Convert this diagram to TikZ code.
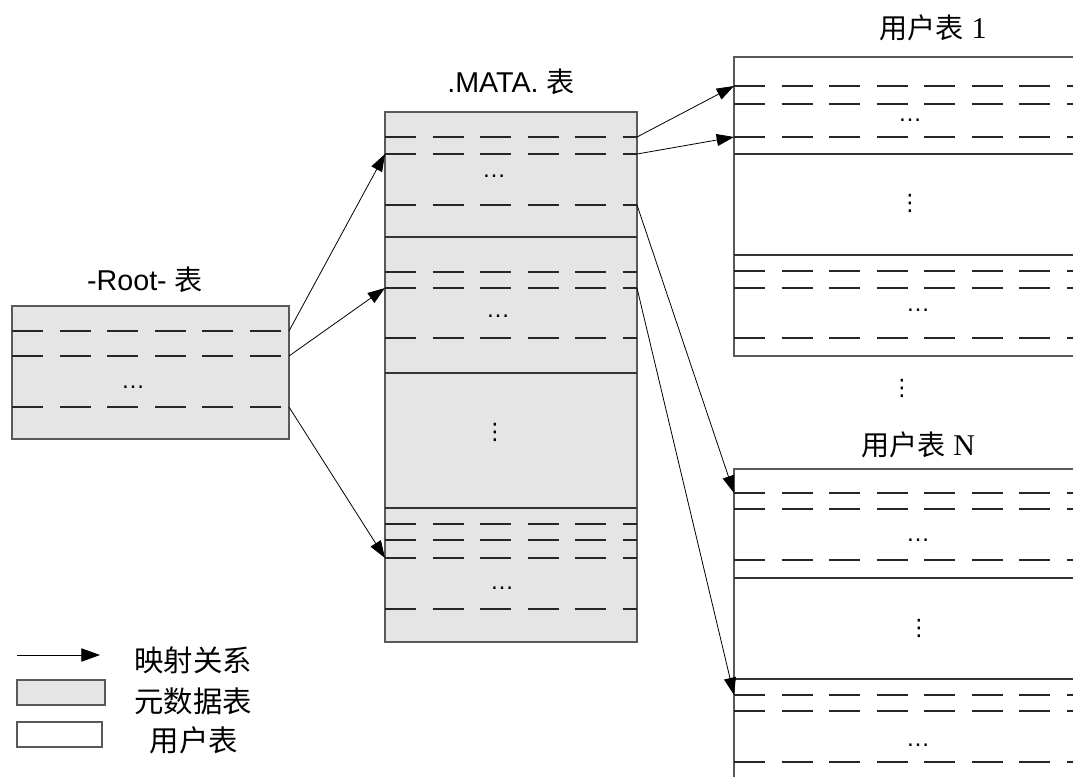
\documentclass[tikz,border=0pt]{standalone}
\usepackage{fontspec}
\setmainfont{Liberation Sans}
\newfontfamily\cjk[Scale=0.98]{Noto Sans CJK SC}
\newfontfamily\tnr[Scale=1.05]{Liberation Serif}
\newfontfamily\symf{DejaVu Sans}
\usetikzlibrary{arrows.meta,fit}

\begin{document}
\begin{tikzpicture}[
    x=0.75pt, y=-0.75pt,
    metatable/.style={rectangle, draw=black!65, line width=1.1pt, fill=black!10, inner sep=0pt, outer sep=0pt},
    usertable/.style={rectangle, draw=black!65, line width=1.1pt, fill=white, inner sep=0pt, outer sep=0pt},
    rowline/.style={draw=black!85, line width=0.9pt, dash pattern=on 23.25pt off 12.4pt},
    sepline/.style={draw=black!80, line width=0.9pt},
    maparrow/.style={-{Triangle[length=13pt, width=9pt]}, draw=black, line width=0.6pt},
    tlabel/.style={font=\fontsize{21.5}{24}\selectfont, inner sep=1pt},
    legtext/.style={font=\fontsize{22.5}{24}\cjk, inner sep=1pt},
    hdots/.style={font=\fontsize{18}{20}\selectfont, inner sep=0pt},
    vdotsnode/.style={font=\fontsize{17}{18}\symf, inner sep=0pt}
]

\useasboundingbox (0,0) rectangle (1073,776);
\clip (0,0) rectangle (1073,776);

% Tables
\node[metatable, fit={(12,306) (289,439)}] (root) {};
\node[metatable, fit={(385,112) (637,642)}] (mata) {};
\node[usertable, fit={(734,57) (1090,356)}] (user1) {};
\node[usertable, fit={(734,469) (1090,800)}] (userN) {};

% Table titles
\node[tlabel] (rootlbl) at (145,280) {-Root- {\cjk 表}};
\node[tlabel] (matalbl) at (511,82) {.MATA. {\cjk 表}};
\node[tlabel] (user1lbl) at (933,28) {{\cjk 用户表} {\tnr 1}};
\node[tlabel] (userNlbl) at (918,445) {{\cjk 用户表} {\tnr N}};

% Rows of -Root-
\foreach \y in {331,356,407}
    \draw[rowline] (root.west |- 0,\y) -- (root.east |- 0,\y);
\node[hdots] (rootdots) at (133,387) {…};

% Rows of .MATA.
\foreach \y in {137,154,205,272,288,338,524,540,558,609}
    \draw[rowline] (mata.west |- 0,\y) -- (mata.east |- 0,\y);
\foreach \y in {237,373,508}
    \draw[sepline] (mata.west |- 0,\y) -- (mata.east |- 0,\y);
\node[hdots] (matadots1) at (494,176) {…};
\node[hdots] (matadots2) at (498,316) {…};
\node[vdotsnode] (matavdots) at (495,432) {⋮};
\node[hdots] (matadots3) at (502,588) {…};

% Rows of user table 1
\foreach \y in {86,104,137,271,288,338}
    \draw[rowline] (user1.west |- 0,\y) -- (user1.east |- 0,\y);
\foreach \y in {154,255}
    \draw[sepline] (user1.west |- 0,\y) -- (user1.east |- 0,\y);
\node[hdots] (user1dots1) at (910,120) {…};
\node[vdotsnode] (user1vdots) at (910,203) {⋮};
\node[hdots] (user1dots2) at (918,310) {…};

\node[vdotsnode] (gapdots) at (902,388) {⋮};

% Rows of user table N
\foreach \y in {493,509,560,695,711,762}
    \draw[rowline] (userN.west |- 0,\y) -- (userN.east |- 0,\y);
\foreach \y in {578,679}
    \draw[sepline] (userN.west |- 0,\y) -- (userN.east |- 0,\y);
\node[hdots] (userNdots1) at (918,540) {…};
\node[vdotsnode] (userNvdots) at (919,628) {⋮};
\node[hdots] (userNdots2) at (918,745) {…};

% Mappings
\draw[maparrow] (root.east |- 0,331) -- (mata.west |- 0,154);
\draw[maparrow] (root.east |- 0,356) -- (mata.west |- 0,288);
\draw[maparrow] (root.east |- 0,407) -- (mata.west |- 0,558);
\draw[maparrow] (mata.east |- 0,137) -- (user1.west |- 0,86);
\draw[maparrow] (mata.east |- 0,154) -- (user1.west |- 0,137);
\draw[maparrow] (mata.east |- 0,205) -- (userN.west |- 0,493);
\draw[maparrow] (mata.east |- 0,288) -- (userN.west |- 0,695);

% Legend
\coordinate (legfrom) at (17,655);
\coordinate (legto) at (100,655);
\draw[maparrow, -{Triangle[length=14pt, width=10pt]}] (legfrom) -- (legto);
\node[metatable, fit={(17,680) (105,705)}] (legmeta) {};
\node[usertable, fit={(17,722) (102,747)}] (leguser) {};
\node[legtext] (legmaptxt) at (193,660) {映射关系};
\node[legtext] (legmetatxt) at (193,701) {元数据表};
\node[legtext] (legusertxt) at (194,740) {用户表};

\end{tikzpicture}
\end{document}
